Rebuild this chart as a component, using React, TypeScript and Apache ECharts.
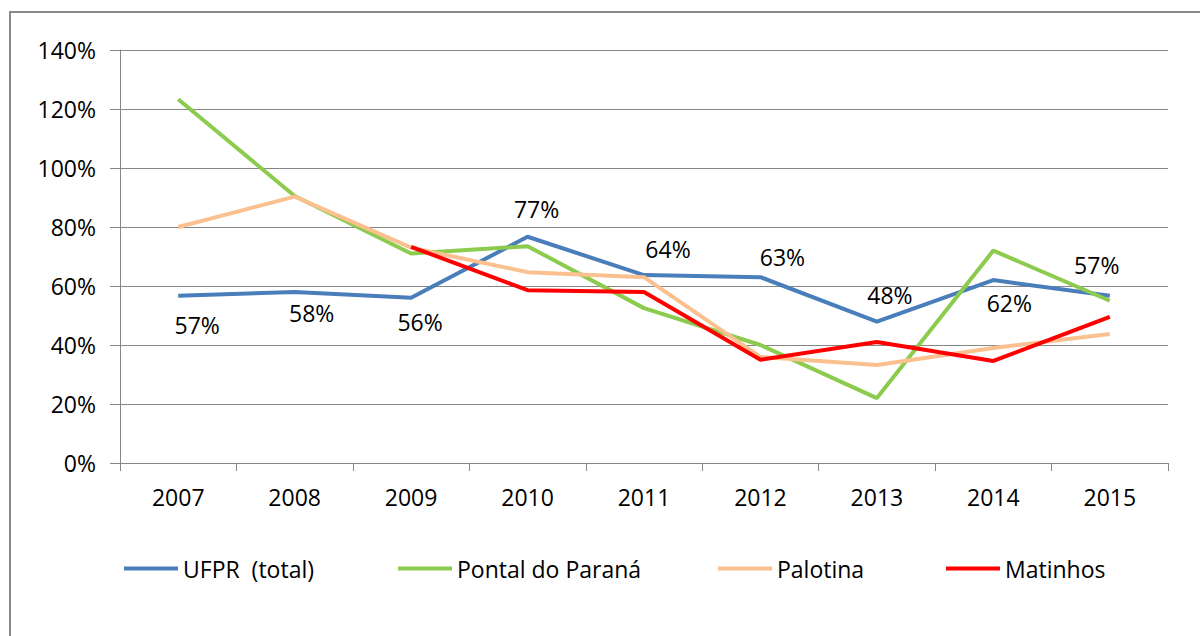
import React, { useEffect, useRef } from "react";
import * as echarts from "echarts";

const years = ["2007", "2008", "2009", "2010", "2011", "2012", "2013", "2014", "2015"];
const ufpr = [56.7, 58, 56, 76.7, 63.7, 63, 47.9, 62, 56.7];
const pontal = [123.3, 90.5, 71, 73.5, 52.5, 40, 22, 72, 55];
const palotina = [80, 90.3, 73, 64.7, 63, 36, 33.2, 39, 43.7];
const matinhos = [null, null, 73.3, 58.6, 58, 35, 41, 34.6, 49.5];
const ufprLabels = ["57%", "58%", "56%", "77%", "64%", "63%", "48%", "62%", "57%"];
const labelOffsets: [number, number][] = [
  [19, 29], [17, 21], [9, 24], [9, -28], [24, -26], [22, -20], [13, -27], [16, 23], [-13, -31],
];
const seriesNames = ["UFPR  (total)", "Pontal do Paraná", "Palotina", "Matinhos"];
const colors = ["#4A7EBB", "#8CCB4E", "#FAC08F", "#FF0000"];

const FONT = "'Open Sans', 'DejaVu Sans', sans-serif";
const FS = 23;

export default function App() {
  const ref = useRef<HTMLDivElement>(null);
  useEffect(() => {
    if (!ref.current) return;
    const chart = echarts.init(ref.current, undefined, { renderer: "svg" });
    const legendLefts = [124, 398, 718, 946];
    const option: any = {
      animation: false,
      backgroundColor: "#ffffff",
      textStyle: { fontFamily: FONT },
      grid: { left: 120, right: 32, top: 50, bottom: 173, containLabel: false },
      legend: seriesNames.map((n, i) => ({
        data: [n],
        left: legendLefts[i],
        top: 557,
        padding: 0,
        itemWidth: 54,
        itemHeight: 4,
        itemGap: 6,
        icon: "rect",
        textStyle: { fontFamily: FONT, fontSize: FS, color: "#000", padding: [0, 0, 0, 0] },
        selectedMode: false,
      })),
      xAxis: {
        type: "category",
        data: years,
        boundaryGap: true,
        axisLine: { lineStyle: { color: "#868686", width: 1 } },
        axisTick: { show: true, length: 8, lineStyle: { color: "#868686" } },
        axisLabel: { color: "#000", fontSize: FS, margin: 22, fontFamily: FONT },
      },
      yAxis: {
        type: "value",
        min: 0,
        max: 140,
        interval: 20,
        axisLine: { show: true, lineStyle: { color: "#868686", width: 1 } },
        axisTick: { show: true, length: 10, inside: false, lineStyle: { color: "#868686" } },
        axisLabel: { color: "#000", fontSize: FS, margin: 24, fontFamily: FONT, formatter: "{value}%" },
        splitLine: { lineStyle: { color: "#868686", width: 1 } },
      },
      series: [
        {
          name: seriesNames[0],
          type: "line",
          data: ufpr.map((v, i) => ({
            value: v,
            label: {
              show: true,
              position: "inside",
              offset: labelOffsets[i],
              formatter: ufprLabels[i],
            },
          })),
          symbol: "circle",
          symbolSize: 0,
          showSymbol: true,
          lineStyle: { color: colors[0], width: 4 },
          itemStyle: { color: colors[0] },
          label: { color: "#000", fontSize: FS, fontFamily: FONT },
          z: 2,
        },
        {
          name: seriesNames[1],
          type: "line",
          data: pontal,
          symbol: "none",
          lineStyle: { color: colors[1], width: 4 },
          itemStyle: { color: colors[1] },
          z: 3,
        },
        {
          name: seriesNames[2],
          type: "line",
          data: palotina,
          symbol: "none",
          lineStyle: { color: colors[2], width: 4 },
          itemStyle: { color: colors[2] },
          z: 4,
        },
        {
          name: seriesNames[3],
          type: "line",
          data: matinhos,
          symbol: "none",
          connectNulls: false,
          lineStyle: { color: colors[3], width: 4 },
          itemStyle: { color: colors[3] },
          z: 5,
        },
      ],
      graphic: [
        {
          type: "rect",
          shape: { x: 10, y: 12, width: 1300, height: 800 },
          style: { fill: "none", stroke: "#8a8a8a", lineWidth: 2 },
          silent: true,
          z: -1,
        },
      ],
    };
    chart.setOption(option);
    return () => chart.dispose();
  }, []);
  return (
    <div
      ref={ref}
      style={{ position: "fixed", left: 0, top: 0, width: 1200, height: 636 }}
    />
  );
}
